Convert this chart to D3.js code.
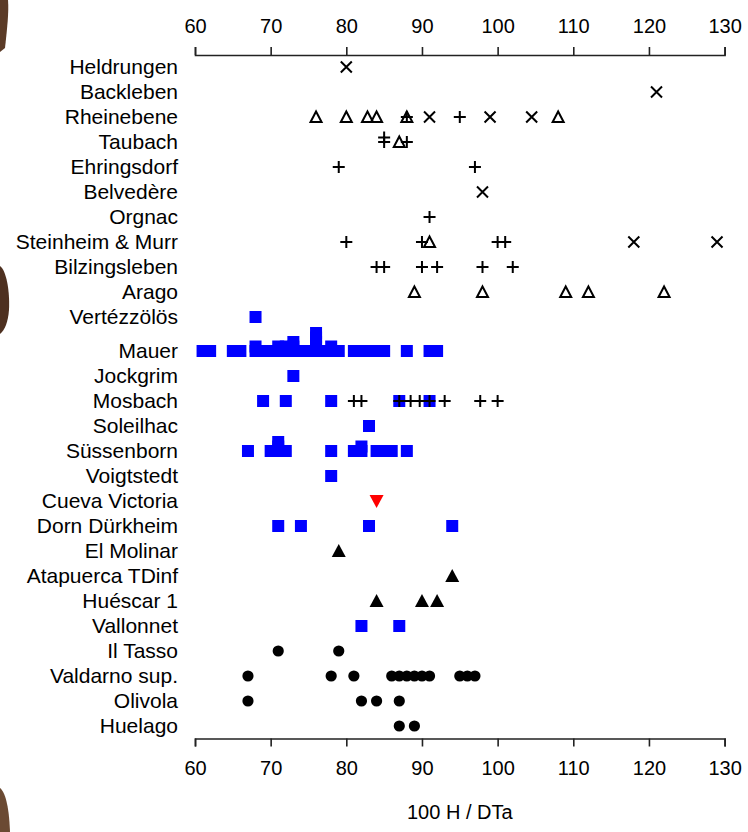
<!DOCTYPE html>
<html>
<head>
<meta charset="utf-8">
<script src="https://cdn.jsdelivr.net/npm/d3@7"></script>
<style>
  html, body { margin: 0; padding: 0; background: #fff; }
  svg { display: block; }
  text { font-family: "Liberation Sans", Arial, sans-serif; fill: #000; }
</style>
</head>
<body>
<svg id="chart" width="748" height="832"></svg>
<script>
// ---------------- DATA ----------------
const sites = ["Heldrungen","Backleben","Rheinebene","Taubach","Ehringsdorf","Belvedère","Orgnac",
  "Steinheim & Murr","Bilzingsleben","Arago","Vertézzölös","Mauer","Jockgrim","Mosbach","Soleilhac",
  "Süssenborn","Voigtstedt","Cueva Victoria","Dorn Dürkheim","El Molinar","Atapuerca TDinf",
  "Huéscar 1","Vallonnet","Il Tasso","Valdarno sup.","Olivola","Huelago"];

const xTicks = [60, 70, 80, 90, 100, 110, 120, 130];
const axisTitle = "100 H / DTa";

// x markers
const crossMarks = [
  ["Heldrungen", [80]],
  ["Backleben", [121]],
  ["Rheinebene", [91, 99, 104.5]],
  ["Belvedère", [98]],
  ["Steinheim & Murr", [118, 129]]
];
// + markers
const plusMarks = [
  ["Rheinebene", [88, 95]],
  ["Taubach", [85, 85, 88]],
  ["Ehringsdorf", [79, 97]],
  ["Orgnac", [91]],
  ["Steinheim & Murr", [80, 90, 100, 101]],
  ["Bilzingsleben", [84, 85, 90, 92, 98, 102]],
  ["Mosbach", [81, 82, 87, 88.5, 89.7, 91, 93, 97.7, 100]]
];
// open triangles
const openTriMarks = [
  ["Rheinebene", [76, 80, 82.8, 84, 88, 108]],
  ["Taubach", [87]],
  ["Steinheim & Murr", [91]],
  ["Arago", [89, 98, 109, 112, 122]]
];
// blue squares
const squareMarks = [
  ["Vertézzölös", [68]],
  ["Mauer", [61, 62, 65, 66, 68, 68, 69, 70, 71, 71, 72, 72, 73, 73, 73, 74, 75, 76, 76, 76, 76, 76,
             77, 78, 78, 79, 81, 82, 83, 84, 85, 88, 91, 92]],
  ["Jockgrim", [73]],
  ["Mosbach", [69, 72, 78, 87, 91]],
  ["Soleilhac", [83]],
  ["Süssenborn", [67, 70, 71, 71, 71, 72, 78, 81, 82, 82, 84, 85, 86, 88]],
  ["Voigtstedt", [78]],
  ["Dorn Dürkheim", [71, 74, 83, 94]],
  ["Vallonnet", [82, 87]]
];
// red downward triangle
const redTriMarks = [
  ["Cueva Victoria", [84]]
];
// black filled triangles
const blackTriMarks = [
  ["El Molinar", [79]],
  ["Atapuerca TDinf", [94]],
  ["Huéscar 1", [84, 90, 92]]
];
// black circles
const circleMarks = [
  ["Il Tasso", [71, 79]],
  ["Valdarno sup.", [67, 78, 81, 86, 87, 88, 89, 90, 91, 95, 96, 97]],
  ["Olivola", [67, 82, 84, 87]],
  ["Huelago", [87, 89]]
];

// ---------------- LAYOUT ----------------
const svg = d3.select("#chart");
const x = d3.scaleLinear().domain([60, 130]).range([195, 724.6]);
const gapAfter = sites.indexOf("Mauer");
const rowPos = i => i + (i >= gapAfter ? 0.36 : 0);
const y = d3.scaleLinear().domain([0, rowPos(sites.length - 1)]).range([67, 726]);
const yOf = s => y(rowPos(sites.indexOf(s)));
const stackStep = 4.5;

// decorative photo fragments at left edge
const frag = svg.append("g");
frag.append("path").attr("d", "M0,0 L8,0 C9,12 7,30 5,48 L0,52 Z").attr("fill", "#5b3b27");
frag.append("path").attr("d", "M0,266 C6,270 10,290 9,310 C8,322 5,330 0,334 Z").attr("fill", "#4e3020");
frag.append("path").attr("d", "M0,788 C5,792 9,805 10,832 L0,832 Z").attr("fill", "#6b4a33");

// axes
const axTop = d3.axisTop(x).tickValues(xTicks).tickSize(8).tickPadding(14).tickFormat(d3.format("d"));
const axBot = d3.axisBottom(x).tickValues(xTicks).tickSize(8).tickPadding(14).tickFormat(d3.format("d"));
const gTop = svg.append("g").attr("transform", "translate(0,55)").call(axTop);
const gBot = svg.append("g").attr("transform", "translate(0,738.5)").call(axBot);
[gTop, gBot].forEach(g => {
  g.select(".domain").attr("stroke", "#222").attr("stroke-width", 1.6);
  g.selectAll(".tick line").attr("stroke", "#222").attr("stroke-width", 1.6);
  g.selectAll(".tick text").attr("font-size", 20).attr("font-family", "Liberation Sans, Arial, sans-serif").attr("fill", "#000");
});

svg.append("text").attr("x", (x(60) + x(130)) / 2).attr("y", 819)
  .attr("text-anchor", "middle").attr("font-size", 20).text(axisTitle);

// site labels
svg.append("g").selectAll("text").data(sites).join("text")
  .attr("x", 178).attr("y", d => yOf(d)).attr("dy", "0.35em")
  .attr("text-anchor", "end").attr("font-size", 21).text(d => d);

// flatten with stacking of duplicate values
function flatten(list) {
  const out = [];
  list.forEach(([site, vals]) => {
    const seen = {};
    vals.forEach(v => {
      const k = v.toFixed(1);
      const lvl = seen[k] || 0;
      seen[k] = lvl + 1;
      out.push({ site, v, lvl });
    });
  });
  return out;
}
const px = d => x(d.v);
const py = d => yOf(d.site) - d.lvl * stackStep;

const marks = svg.append("g");

// squares (draw lower levels first)
marks.append("g").selectAll("rect").data(flatten(squareMarks).sort((a, b) => a.lvl - b.lvl)).join("rect")
  .attr("x", d => px(d) - 6).attr("y", d => py(d) - 6).attr("width", 12).attr("height", 12)
  .attr("fill", "#0000ff");

// circles
marks.append("g").selectAll("circle").data(flatten(circleMarks)).join("circle")
  .attr("cx", px).attr("cy", py).attr("r", 5.6).attr("fill", "#000");

// black triangles
marks.append("g").selectAll("path").data(flatten(blackTriMarks)).join("path")
  .attr("d", d => { const cx = px(d), cy = py(d); return `M${cx},${cy - 7} L${cx + 7},${cy + 6} L${cx - 7},${cy + 6} Z`; })
  .attr("fill", "#000");

// red downward triangle
marks.append("g").selectAll("path").data(flatten(redTriMarks)).join("path")
  .attr("d", d => { const cx = px(d), cy = py(d); return `M${cx - 7},${cy - 6} L${cx + 7},${cy - 6} L${cx},${cy + 7} Z`; })
  .attr("fill", "#ff0000");

// open triangles
marks.append("g").selectAll("path").data(flatten(openTriMarks)).join("path")
  .attr("d", d => { const cx = px(d), cy = py(d); return `M${cx},${cy - 5.5} L${cx + 5.5},${cy + 5} L${cx - 5.5},${cy + 5} Z`; })
  .attr("fill", "none").attr("stroke", "#000").attr("stroke-width", 2).attr("stroke-linejoin", "miter");

// plus
marks.append("g").selectAll("path").data(flatten(plusMarks)).join("path")
  .attr("d", d => { const cx = px(d), cy = py(d); return `M${cx - 6},${cy} H${cx + 6} M${cx},${cy - 6} V${cy + 6}`; })
  .attr("stroke", "#000").attr("stroke-width", 2).attr("fill", "none");

// crosses
marks.append("g").selectAll("path").data(flatten(crossMarks)).join("path")
  .attr("d", d => { const cx = px(d), cy = py(d); return `M${cx - 5.5},${cy - 5.5} L${cx + 5.5},${cy + 5.5} M${cx + 5.5},${cy - 5.5} L${cx - 5.5},${cy + 5.5}`; })
  .attr("stroke", "#000").attr("stroke-width", 2).attr("fill", "none");
</script>
</body>
</html>
